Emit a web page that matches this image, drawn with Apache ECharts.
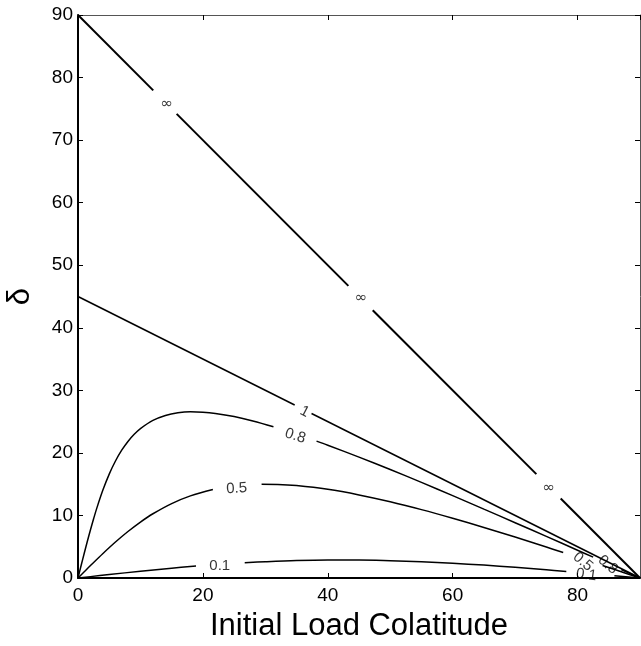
<!DOCTYPE html>
<html><head><meta charset="utf-8">
<script src="https://cdn.jsdelivr.net/npm/echarts@6/dist/echarts.min.js"></script>
<style>html,body{margin:0;padding:0;background:#fff}#c{width:641px;height:646px}</style>
</head><body><div id="c"></div>
<script>
// ---- data ----
const xTickStep = 20;
const yTickStep = 10;
const xLabelText = 'Initial Load Colatitude';
const yLabelText = 'δ';

// contour "∞" (null = gap for a label)
const infTheta = [0, 12.05, null, 15.8, 43.3, null, 47.2, 73.4, null, 77.3, 90];
const infDelta = [90, 77.95, null, 74.2, 46.7, null, 42.8, 16.6, null, 12.7, 0];

// contour "1"
const c1Theta = [0, 34.7, null, 37.4, 90];
const c1Delta = [45, 27.65, null, 26.3, 0];

// contour "0.8"
const c08Theta = [0, 0.5, 1, 1.5, 2, 2.5, 3, 4, 5, 6, 7, 8, 9, 10, 12, 14, 16, 18, 20, 22, 25, 28, 31.3, null, 38.2, 40, 45, 50, 55, 60, 65, 70, 75, 80, 82.5, null, 87, 90];
const c08Delta = [0, 2.0, 3.96, 5.88, 7.72, 9.47, 11.13, 14.09, 16.61, 18.70, 20.43, 21.83, 22.97, 23.89, 25.20, 25.99, 26.41, 26.56, 26.51, 26.31, 25.80, 25.10, 24.18, null, 21.88, 21.23, 19.33, 17.34, 15.28, 13.17, 11.01, 8.84, 6.65, 4.44, 3.33, null, 1.33, 0];

// contour "0.5"
const c05Theta = [0, 1, 2, 4, 6, 8, 10, 12, 15, 18, 21.6, null, 29.4, 32, 35, 40, 45, 50, 55, 60, 65, 70, 75, 77.7, null, 84, 87, 90];
const c05Delta = [0, 1.00, 1.99, 3.92, 5.75, 7.43, 8.94, 10.27, 11.90, 13.13, 14.15, null, 14.99, 14.96, 14.77, 14.17, 13.28, 12.19, 10.93, 9.55, 8.08, 6.54, 4.95, 4.07, null, 2.0, 1.0, 0];

// contour "0.1"
const c01Theta = [0, 2, 5, 10, 15, 18.9, null, 26.7, 30, 35, 40, 45, 50, 55, 60, 65, 70, 75, 78.2, null, 85.9, 90];
const c01Delta = [0, 0.22, 0.55, 1.08, 1.57, 1.90, null, 2.44, 2.60, 2.78, 2.86, 2.86, 2.76, 2.60, 2.36, 2.06, 1.71, 1.32, 1.05, null, 0.37, 0];

// contour labels
const labelText  = ['∞', '∞', '∞', '1', '0.8', '0.5', '0.1', '0.5', '0.8', '0.1'];
const labelTheta = [14.2, 45.3, 75.4, 36.3, 34.8, 25.4, 22.7, 80.85, 84.85, 81.4];
const labelDelta = [75.8, 44.8, 14.3, 26.6, 22.7, 14.3, 1.95, 2.6, 2.1, 0.5];

// ---- styling ----
const labelRotate = [0, 0, 0, -27, -18, 3, 0, -40, -40, -8];
const FONT = "'Liberation Sans', Arial, Helvetica, sans-serif";
const SYMFONT = "'DejaVu Sans', sans-serif";

function segments(xs, ys) {
  const segs = []; let cur = [];
  for (let i = 0; i < xs.length; i++) {
    if (xs[i] === null || ys[i] === null) { if (cur.length) segs.push(cur); cur = []; }
    else cur.push([xs[i], ys[i]]);
  }
  if (cur.length) segs.push(cur);
  return segs;
}

const series = [];
function addContour(xs, ys, width) {
  segments(xs, ys).forEach(seg => {
    series.push({
      type: 'line', data: seg, showSymbol: false, symbol: 'none',
      smooth: 0.35, clip: true, silent: true,
      lineStyle: { color: '#000', width: width }
    });
  });
}
addContour(infTheta, infDelta, 2);
addContour(c1Theta, c1Delta, 1.5);
addContour(c08Theta, c08Delta, 1.5);
addContour(c05Theta, c05Delta, 1.5);
addContour(c01Theta, c01Delta, 1.5);

series.push({
  type: 'scatter', symbolSize: 0, silent: true,
  data: labelText.map((t, i) => {
    const lab = { fontFamily: t === '∞' ? SYMFONT : FONT, fontSize: t === '∞' ? 15 : 15 };
    if (labelRotate[i]) lab.rotate = labelRotate[i];
    return { value: [labelTheta[i], labelDelta[i]], name: t, label: lab };
  }),
  label: {
    show: true, position: 'inside', formatter: p => p.name,
    color: '#000', fontSize: 15, fontFamily: FONT
  }
});

const common = { min: 0, max: 90, splitLine: { show: false } };
const chart = echarts.init(document.getElementById('c'), null, { renderer: 'canvas' });
chart.setOption({
  animation: false,
  backgroundColor: '#fff',
  grid: { left: 78, top: 15, width: 562, height: 563, containLabel: false, outerBoundsMode: 'none' },
  xAxis: [
    Object.assign({}, common, {
      type: 'value', position: 'bottom', interval: xTickStep,
      axisLine: { onZero: false, lineStyle: { color: '#000', width: 2 } },
      axisTick: { inside: true, length: 5, lineStyle: { color: '#000', width: 1 } },
      axisLabel: { color: '#000', fontSize: 19, fontFamily: FONT, margin: 8, showMaxLabel: false },
      name: xLabelText, nameLocation: 'middle', nameGap: 33,
      nameTextStyle: { color: '#000', fontSize: 31, fontFamily: FONT }
    }),
    Object.assign({}, common, {
      type: 'value', position: 'top', interval: xTickStep,
      axisLine: { onZero: false, lineStyle: { color: '#555', width: 1 } },
      axisTick: { inside: true, length: 5, lineStyle: { color: '#000', width: 1 } },
      axisLabel: { show: false }
    })
  ],
  yAxis: [
    Object.assign({}, common, {
      type: 'value', position: 'left', interval: yTickStep,
      axisLine: { onZero: false, lineStyle: { color: '#000', width: 2 } },
      axisTick: { inside: true, length: 5, lineStyle: { color: '#000', width: 1 } },
      axisLabel: { color: '#000', fontSize: 19, fontFamily: FONT, margin: 5 },
      name: yLabelText, nameLocation: 'middle', nameGap: 42, nameRotate: 90,
      nameTextStyle: { color: '#000', fontSize: 31, fontFamily: FONT }
    }),
    Object.assign({}, common, {
      type: 'value', position: 'right', interval: yTickStep,
      axisLine: { onZero: false, lineStyle: { color: '#555', width: 1 } },
      axisTick: { inside: true, length: 5, lineStyle: { color: '#000', width: 1 } },
      axisLabel: { show: false }
    })
  ],
  series: series
});
</script>
</body></html>
